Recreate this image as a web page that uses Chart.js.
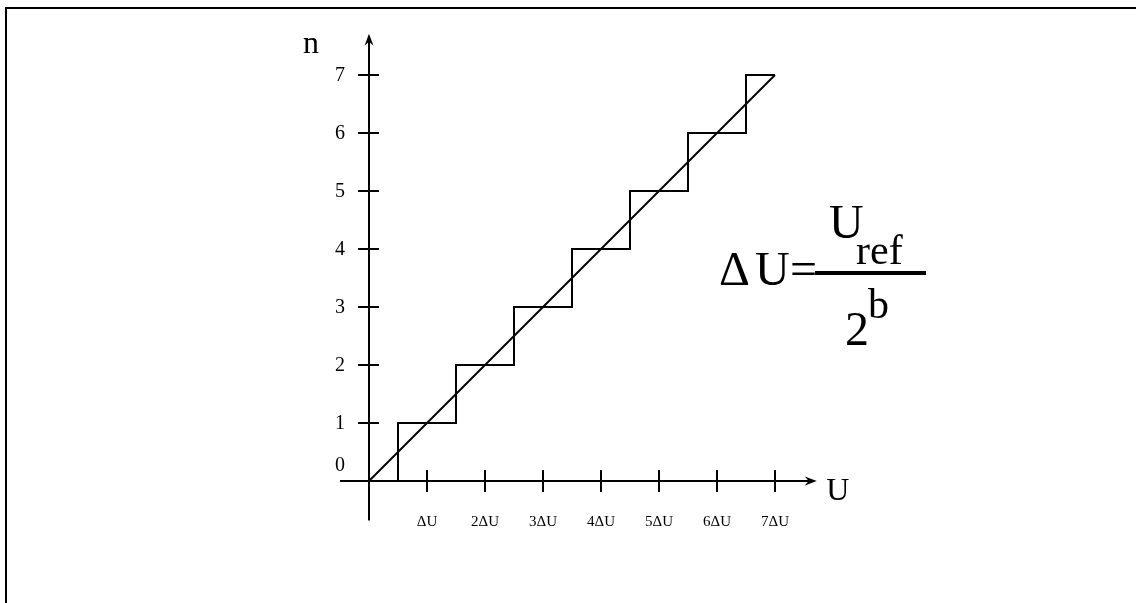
<!DOCTYPE html>
<html>
<head>
<meta charset="utf-8">
<script src="https://cdn.jsdelivr.net/npm/chart.js@4/dist/chart.umd.min.js"></script>
<style>
  html, body { margin: 0; padding: 0; background: #fff; }
  #wrap { width: 1136px; height: 603px; position: relative; }
</style>
</head>
<body>
<div id="wrap"><canvas id="c" width="1136" height="603"></canvas></div>
<script>
// ---- data ----
const inputLevels = [0, 1, 2, 3, 4, 5, 6, 7];      // U in units of ΔU
const outputCodes = [0, 1, 2, 3, 4, 5, 6, 7];      // n
const idealU = [0, 7];
const idealN = [0, 7];
const yTickValues = [0, 1, 2, 3, 4, 5, 6, 7];
const yTickLabels = ['0', '1', '2', '3', '4', '5', '6', '7'];
const xTickValues = [1, 2, 3, 4, 5, 6, 7];
const xTickLabels = ['ΔU', '2ΔU', '3ΔU', '4ΔU', '5ΔU', '6ΔU', '7ΔU'];
const yAxisTitle = 'n';
const xAxisTitle = 'U';

const SERIF = '"Liberation Serif", "DejaVu Serif", serif';

function arrowHead(ctx, x, y, dir) {
  ctx.save();
  ctx.translate(x, y);
  if (dir === 'up') ctx.rotate(-Math.PI / 2);
  ctx.beginPath();
  ctx.moveTo(0, 0);
  ctx.lineTo(-12, -4.5);
  ctx.lineTo(-8, 0);
  ctx.lineTo(-12, 4.5);
  ctx.closePath();
  ctx.fillStyle = '#000';
  ctx.fill();
  ctx.restore();
}

const axesPlugin = {
  id: 'axesPlugin',
  beforeDatasetsDraw(chart) {
    const ctx = chart.ctx;
    const xs = chart.scales.x, ys = chart.scales.y;
    const x0 = xs.getPixelForValue(0), y0 = ys.getPixelForValue(0);
    ctx.save();
    // frame
    ctx.fillStyle = '#000';
    ctx.fillRect(5, 7, 1131, 2);
    ctx.fillRect(5, 7, 2, 596);
    ctx.strokeStyle = '#000';
    ctx.lineWidth = 2;
    // x axis
    const xl = xs.getPixelForValue(-0.5), xr = xs.getPixelForValue(7.72);
    ctx.beginPath(); ctx.moveTo(xl, y0); ctx.lineTo(xr - 6, y0); ctx.stroke();
    arrowHead(ctx, xr, y0, 'right');
    // y axis
    const yb = ys.getPixelForValue(-0.68), yt = ys.getPixelForValue(7.71);
    ctx.beginPath(); ctx.moveTo(x0, yb); ctx.lineTo(x0, yt + 6); ctx.stroke();
    arrowHead(ctx, x0, yt, 'up');
    // ticks
    yTickValues.forEach(v => {
      if (v === 0) return;
      const py = ys.getPixelForValue(v);
      ctx.beginPath(); ctx.moveTo(x0 - 11, py); ctx.lineTo(x0 + 10, py); ctx.stroke();
    });
    xTickValues.forEach(v => {
      const px = xs.getPixelForValue(v);
      ctx.beginPath(); ctx.moveTo(px, y0 - 11); ctx.lineTo(px, y0 + 11); ctx.stroke();
    });
    // tick labels
    ctx.fillStyle = '#000';
    ctx.font = '20px ' + SERIF;
    ctx.textAlign = 'right';
    ctx.textBaseline = 'middle';
    yTickValues.forEach((v, i) => {
      let py = ys.getPixelForValue(v);
      if (v === 0) py -= 16;
      ctx.fillText(yTickLabels[i], x0 - 24, py + 1);
    });
    ctx.font = '15px ' + SERIF;
    ctx.textAlign = 'center';
    xTickValues.forEach((v, i) => {
      ctx.fillText(xTickLabels[i], xs.getPixelForValue(v), y0 + 41);
    });
    // axis titles
    ctx.font = '32px ' + SERIF;
    ctx.textAlign = 'center';
    ctx.fillText(yAxisTitle, 311, 45);
    ctx.fillText(xAxisTitle, xs.getPixelForValue(7.72) + 21, y0 + 11);
    // formula
    ctx.textBaseline = 'alphabetic';
    ctx.textAlign = 'left';
    ctx.font = '48px ' + SERIF;
    ctx.fillText('Δ', 719, 285);
    ctx.fillText('U', 755, 285);
    ctx.fillText('=', 790, 285);
    ctx.fillRect(815, 271, 111, 4);
    ctx.fillText('U', 829, 238);
    ctx.font = '42px ' + SERIF;
    ctx.fillText('ref', 856, 264);
    ctx.font = '48px ' + SERIF;
    ctx.fillText('2', 845, 345);
    ctx.font = '42px ' + SERIF;
    ctx.fillText('b', 868, 318);
    ctx.restore();
  }
};

new Chart(document.getElementById('c'), {
  type: 'scatter',
  data: {
    datasets: [
      {
        label: 'staircase',
        data: inputLevels.map((u, i) => ({ x: u, y: outputCodes[i] })),
        showLine: true,
        stepped: 'middle',
        borderColor: '#000',
        borderWidth: 2,
        pointRadius: 0,
        fill: false
      },
      {
        label: 'ideal',
        data: idealU.map((u, i) => ({ x: u, y: idealN[i] })),
        showLine: true,
        borderColor: '#000',
        borderWidth: 2,
        pointRadius: 0,
        fill: false
      }
    ]
  },
  options: {
    responsive: false,
    animation: false,
    events: [],
    layout: { padding: { left: 340, right: 274, top: 31.5, bottom: 78.5 } },
    plugins: { legend: { display: false }, tooltip: { enabled: false } },
    scales: {
      x: { type: 'linear', min: -0.5, max: 8.5, display: false },
      y: { type: 'linear', min: -0.75, max: 7.75, display: false }
    }
  },
  plugins: [axesPlugin]
});
</script>
</body>
</html>
